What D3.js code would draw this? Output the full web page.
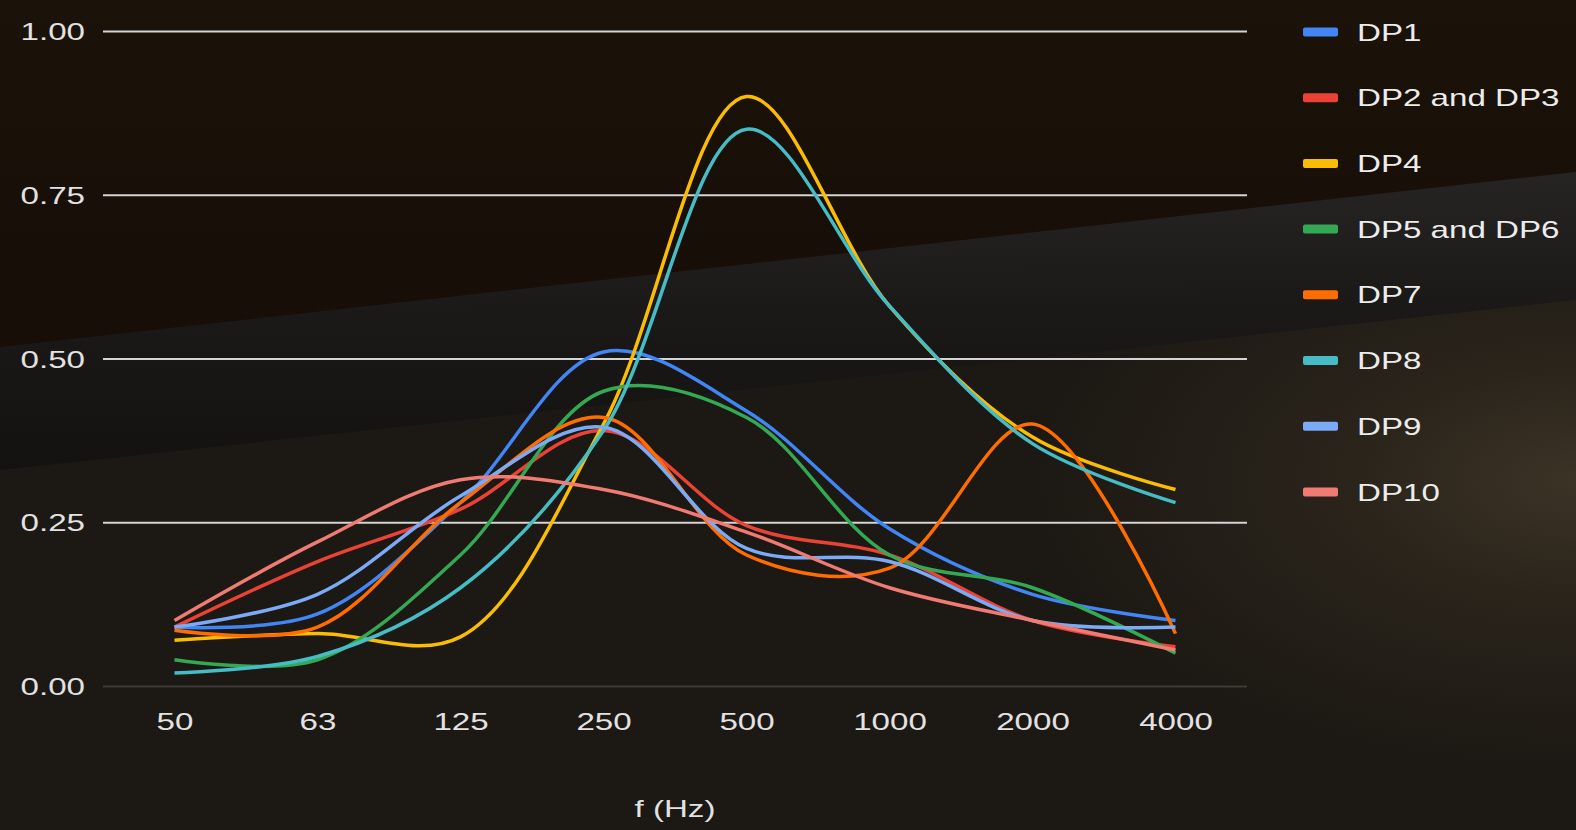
<!DOCTYPE html>
<html>
<head>
<meta charset="utf-8">
<script src="https://cdn.jsdelivr.net/npm/d3@7"></script>
<style>
  html, body { margin: 0; padding: 0; background: #1c1813; overflow: hidden; }
  svg { display: block; font-family: "Liberation Sans", Arial, sans-serif; }
</style>
</head>
<body>
<svg id="chart"></svg>
<script>
// frequency bands (x categories)
const categories = ["50", "63", "125", "250", "500", "1000", "2000", "4000"];

// absorption coefficient per series
const dp1    = [0.09, 0.11, 0.28, 0.51, 0.42, 0.24, 0.14, 0.10];
const dp2_3  = [0.09, 0.19, 0.27, 0.39, 0.245, 0.20, 0.10, 0.06];
const dp4    = [0.07, 0.08, 0.075, 0.40, 0.90, 0.58, 0.38, 0.30];
const dp5_6  = [0.04, 0.04, 0.20, 0.45, 0.41, 0.20, 0.15, 0.05];
const dp7    = [0.085, 0.09, 0.28, 0.41, 0.20, 0.18, 0.40, 0.08];
const dp8    = [0.02, 0.045, 0.15, 0.39, 0.85, 0.58, 0.37, 0.28];
const dp9    = [0.09, 0.14, 0.29, 0.395, 0.21, 0.19, 0.10, 0.09];
const dp10   = [0.10, 0.22, 0.315, 0.30, 0.235, 0.15, 0.10, 0.055];

const seriesNames = ["DP1", "DP2 and DP3", "DP4", "DP5 and DP6", "DP7", "DP8", "DP9", "DP10"];
const seriesValues = [dp1, dp2_3, dp4, dp5_6, dp7, dp8, dp9, dp10];
const seriesColors = ["#4285f4", "#ea4335", "#fbbc04", "#34a853", "#ff6d01", "#46bdc6", "#7baaf7", "#f07b72"];

const yTicks = [0, 0.25, 0.5, 0.75, 1];
const xTitle = "f (Hz)";

const W = 1576, H = 830;
const margin = { top: 31, right: 329, bottom: 144, left: 103 };
const width = W - margin.left - margin.right;
const height = H - margin.top - margin.bottom;
const stretch = "scale(1.38,1)"; // text in the picture is drawn wide
const fontSize = "24px";

const svg = d3.select("#chart").attr("width", W).attr("height", H);

// --- background (dark wood / shadow band / floor) ---
const defs = svg.append("defs");
const woodGrad = defs.append("linearGradient").attr("id", "wood")
  .attr("x1", 0).attr("y1", 0).attr("x2", 0).attr("y2", 1);
woodGrad.append("stop").attr("offset", 0).attr("stop-color", "#1b1209");
woodGrad.append("stop").attr("offset", 1).attr("stop-color", "#160e07");

const bandGrad = defs.append("linearGradient").attr("id", "band")
  .attr("x1", 0).attr("y1", 0).attr("x2", 0.05).attr("y2", 1);
bandGrad.append("stop").attr("offset", 0).attr("stop-color", "#272625");
bandGrad.append("stop").attr("offset", 0.5).attr("stop-color", "#1a1918");
bandGrad.append("stop").attr("offset", 1).attr("stop-color", "#131210");

const floorGrad = defs.append("radialGradient").attr("id", "floor")
  .attr("cx", 1.0).attr("cy", 0.58).attr("r", 0.35);
floorGrad.append("stop").attr("offset", 0).attr("stop-color", "#3c3326");
floorGrad.append("stop").attr("offset", 0.4).attr("stop-color", "#2a241b");
floorGrad.append("stop").attr("offset", 1).attr("stop-color", "#1c1813");

svg.append("rect").attr("width", W).attr("height", H).attr("fill", "url(#floor)");
svg.append("polygon")
  .attr("points", `0,345 ${W},170 ${W},300 0,470`)
  .attr("fill", "url(#band)");
svg.append("polygon")
  .attr("points", `0,0 ${W},0 ${W},172 0,347`)
  .attr("fill", "url(#wood)");

const g = svg.append("g").attr("transform", `translate(${margin.left},${margin.top})`);

// --- scales ---
const x = d3.scalePoint().domain(categories).range([0, width]).padding(0.5);
const y = d3.scaleLinear().domain([0, 1]).range([height, 0]);

// --- y axis with gridlines ---
const yAxis = g.append("g")
  .call(d3.axisLeft(y).tickValues(yTicks).tickFormat(d3.format(".2f")).tickSize(-width));
yAxis.select(".domain").remove();
yAxis.selectAll(".tick line")
  .attr("stroke", d => d === 0 ? "#3d3a36" : "#d4d4d4")
  .attr("stroke-width", 2);
yAxis.selectAll(".tick text")
  .attr("x", 0).attr("dy", "0.36em")
  .attr("transform", `translate(-18,0) ${stretch}`)
  .attr("fill", "#e2e2e2")
  .style("font-size", fontSize)
  .style("font-family", "Liberation Sans, Arial, sans-serif");

// --- x axis ---
const xAxis = g.append("g")
  .attr("transform", `translate(0,${height})`)
  .call(d3.axisBottom(x).tickSize(0));
xAxis.select(".domain").remove();
xAxis.selectAll(".tick text")
  .attr("y", 0).attr("dy", "0.36em")
  .attr("transform", `translate(0,35) ${stretch}`)
  .attr("fill", "#e2e2e2")
  .style("font-size", fontSize)
  .style("font-family", "Liberation Sans, Arial, sans-serif");

g.append("text")
  .attr("text-anchor", "middle")
  .attr("dy", "0.36em")
  .attr("transform", `translate(${width / 2},${height + 122}) ${stretch}`)
  .attr("fill", "#e2e2e2")
  .style("font-size", fontSize)
  .text(xTitle);

// --- lines ---
const line = d3.line()
  .x((d, i) => x(categories[i]))
  .y(d => y(d))
  .curve(d3.curveCatmullRom.alpha(0.5));

g.selectAll(".series")
  .data(seriesValues)
  .enter()
  .append("path")
  .attr("class", "series")
  .attr("fill", "none")
  .attr("stroke", (d, i) => seriesColors[i])
  .attr("stroke-width", 3.5)
  .attr("stroke-linejoin", "round")
  .attr("d", line);

// --- legend ---
const legend = svg.append("g").attr("transform", "translate(1303,32)");
const rows = legend.selectAll(".row")
  .data(seriesNames)
  .enter()
  .append("g")
  .attr("transform", (d, i) => `translate(0,${i * 65.7})`);
rows.append("rect")
  .attr("x", 0).attr("y", -4.5)
  .attr("width", 35).attr("height", 9).attr("rx", 2)
  .attr("fill", (d, i) => seriesColors[i]);
rows.append("text")
  .attr("dy", "0.36em")
  .attr("transform", `translate(54,0) ${stretch}`)
  .attr("fill", "#ececec")
  .style("font-size", fontSize)
  .text(d => d);
</script>
</body>
</html>
